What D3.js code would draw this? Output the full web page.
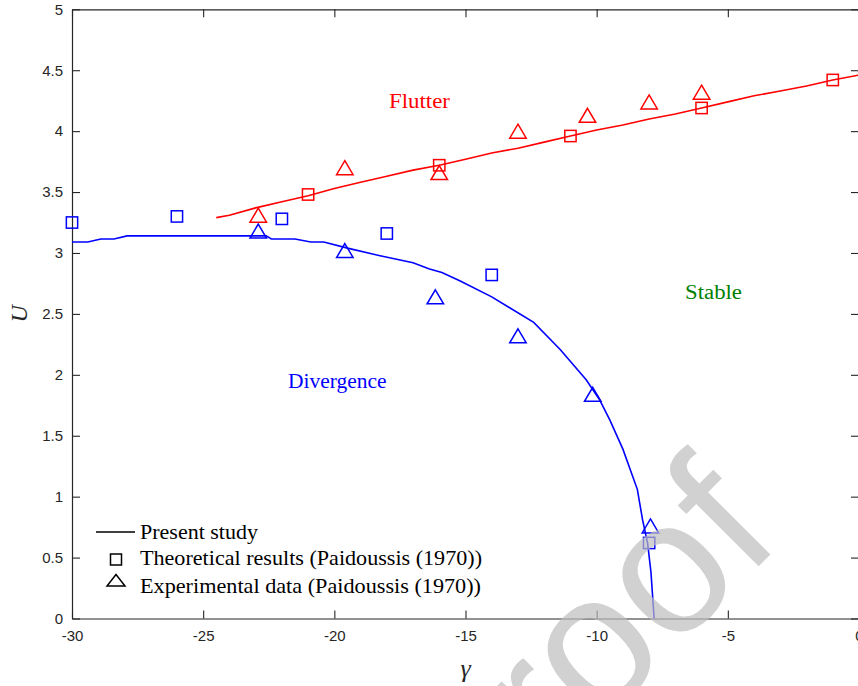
<!DOCTYPE html>
<html>
<head>
<meta charset="utf-8">
<script src="https://cdn.jsdelivr.net/npm/d3@7"></script>
<style>
  html, body { margin: 0; padding: 0; background: #fff; }
  svg { display: block; }
</style>
</head>
<body>
<svg id="chart" width="858" height="686"></svg>
<script>
// Stability boundaries of the cantilevered cylinder, U versus gamma

// Present study: flutter boundary
const flutterGamma = [-24.5, -24, -23, -22, -21, -20, -19, -18, -17, -16, -15, -14, -13, -12, -11, -10, -9, -8, -7, -6, -5, -4, -3, -2, -1, 0];
const flutterU     = [3.29, 3.31, 3.37, 3.42, 3.47, 3.53, 3.58, 3.63, 3.68, 3.72, 3.77, 3.82, 3.86, 3.91, 3.96, 4.01, 4.05, 4.10, 4.14, 4.19, 4.24, 4.29, 4.33, 4.37, 4.42, 4.46];

// Present study: divergence boundary
const divergenceGamma = [-30, -29.4, -28.9, -28.4, -27.9, -22.6, -22.4, -21.5, -20.9, -20.4, -19.5, -18.3, -17, -16.4, -15.9, -15.2, -14, -12.4, -11.4, -10.4, -9.9, -9.5, -9.0, -8.45, -8.25, -8.06, -7.93, -7.81];
const divergenceU     = [3.09, 3.09, 3.115, 3.115, 3.14, 3.14, 3.115, 3.115, 3.09, 3.09, 3.04, 2.98, 2.92, 2.87, 2.84, 2.77, 2.64, 2.43, 2.21, 1.96, 1.80, 1.63, 1.39, 1.06, 0.81, 0.62, 0.38, 0.0];

// Paidoussis (1970): theoretical results
const theoFlutterGamma = [-21, -16, -11, -6, -1];
const theoFlutterU     = [3.48, 3.72, 3.96, 4.19, 4.42];
const theoDivGamma     = [-30, -26, -22, -18, -14, -8];
const theoDivU         = [3.25, 3.30, 3.28, 3.16, 2.82, 0.62];

// Paidoussis (1970): experimental data
const expFlutterGamma = [-22.9, -19.6, -16, -13, -10.35, -8, -6];
const expFlutterU     = [3.31, 3.70, 3.66, 4.00, 4.13, 4.24, 4.32];
const expDivGamma     = [-22.9, -19.6, -16.15, -13, -10.15, -7.95];
const expDivU         = [3.18, 3.02, 2.64, 2.32, 1.84, 0.76];

// Axis ticks
const xTicks = [-30, -25, -20, -15, -10, -5, 0];
const yTicks = [0, 0.5, 1, 1.5, 2, 2.5, 3, 3.5, 4, 4.5, 5];

// Legend entries
const legendLabels = ["Present study", "Theoretical results (Paidoussis (1970))", "Experimental data (Paidoussis (1970))"];
const legendWidths = [118, 342, 341];

const RED = "#ff0000", BLUE = "#0000ff", GREEN = "#008000", AXIS = "#262626";

const svg = d3.select("#chart");
const x = d3.scaleLinear().domain([-30, 0]).range([72, 859]);
const y = d3.scaleLinear().domain([0, 5]).range([618.5, 9.3]);

const zip = (xs, ys) => xs.map((v, i) => [v, ys[i]]);

// Axes with inward ticks (box on)
const tickLen = 8;
const axisFont = "'Liberation Sans', Arial, sans-serif";

const gx = svg.append("g").attr("transform", `translate(0,${y(0)})`)
  .call(d3.axisBottom(x).tickValues(xTicks).tickSizeInner(-tickLen).tickSizeOuter(0).tickPadding(12).tickFormat(d => d3.format("d")(d).replace("−", "-")));
const gy = svg.append("g").attr("transform", `translate(${x(-30)},0)`)
  .call(d3.axisLeft(y).tickValues(yTicks).tickSizeInner(-tickLen).tickSizeOuter(0).tickPadding(9).tickFormat(d => String(d)));
const gt = svg.append("g").attr("transform", `translate(0,${y(5)})`)
  .call(d3.axisTop(x).tickValues(xTicks).tickSizeInner(-tickLen).tickSizeOuter(0).tickFormat(""));
const gr = svg.append("g").attr("transform", `translate(${x(0)},0)`)
  .call(d3.axisRight(y).tickValues(yTicks).tickSizeInner(-tickLen).tickSizeOuter(0).tickFormat(""));

[gx, gy, gt, gr].forEach(g => {
  g.select(".domain").attr("stroke", AXIS).attr("stroke-width", 1.2);
  g.selectAll(".tick line").attr("stroke", AXIS).attr("stroke-width", 1.1);
  g.selectAll(".tick text").attr("fill", AXIS).style("font-family", axisFont).style("font-size", "15px");
});

// Axis titles
const serif = "'Liberation Serif', 'Times New Roman', serif";
svg.append("text")
  .attr("transform", `translate(27,${y(2.5)}) rotate(-90)`)
  .attr("text-anchor", "middle")
  .style("font-family", serif).style("font-style", "italic").style("font-size", "24px")
  .attr("fill", AXIS).text("U");
svg.append("text")
  .attr("x", x(-15)).attr("y", 677)
  .attr("text-anchor", "middle")
  .style("font-family", serif).style("font-style", "italic").style("font-size", "26px")
  .attr("fill", AXIS).text("γ");

// Boundary curves
const line = d3.line().x(d => x(d[0])).y(d => y(d[1]));
svg.append("path").datum(zip(flutterGamma, flutterU))
  .attr("d", line).attr("fill", "none").attr("stroke", RED).attr("stroke-width", 1.6);
svg.append("path").datum(zip(divergenceGamma, divergenceU))
  .attr("d", line).attr("fill", "none").attr("stroke", BLUE).attr("stroke-width", 1.6);

// Markers
const sq = 11.3;
function squares(data, color) {
  svg.append("g").selectAll("rect").data(data).join("rect")
    .attr("x", d => x(d[0]) - sq / 2).attr("y", d => y(d[1]) - sq / 2)
    .attr("width", sq).attr("height", sq)
    .attr("fill", "none").attr("stroke", color).attr("stroke-width", 1.5);
}
const triW = 16.5, triH = 14;
const triPath = (cx, cy) => `M${cx},${cy - triH / 2}L${cx + triW / 2},${cy + triH / 2}L${cx - triW / 2},${cy + triH / 2}Z`;
function triangles(data, color) {
  svg.append("g").selectAll("path").data(data).join("path")
    .attr("d", d => triPath(x(d[0]), y(d[1])))
    .attr("fill", "none").attr("stroke", color).attr("stroke-width", 1.5).attr("stroke-linejoin", "miter");
}
squares(zip(theoFlutterGamma, theoFlutterU), RED);
squares(zip(theoDivGamma, theoDivU), BLUE);
triangles(zip(expFlutterGamma, expFlutterU), RED);
triangles(zip(expDivGamma, expDivU), BLUE);

// Region labels
function regionLabel(txt, px, py, w, color) {
  svg.append("text").attr("x", px).attr("y", py)
    .attr("textLength", w).attr("lengthAdjust", "spacingAndGlyphs")
    .style("font-family", serif).style("font-size", "20px")
    .attr("fill", color).text(txt);
}
regionLabel("Flutter", 389, 107.5, 61, RED);
regionLabel("Stable", 685, 299, 57, GREEN);
regionLabel("Divergence", 288, 387.7, 98.5, BLUE);

// Legend
const legX = 140, legY = [538.5, 565, 592.5];
const leg = svg.append("g");
leg.append("line").attr("x1", 96).attr("x2", 135).attr("y1", legY[0] - 6.5).attr("y2", legY[0] - 6.5)
  .attr("stroke", "#000").attr("stroke-width", 1.6);
leg.append("rect").attr("x", 116 - 5.5).attr("y", legY[1] - 11).attr("width", 11).attr("height", 11)
  .attr("fill", "none").attr("stroke", "#000").attr("stroke-width", 1.5);
leg.append("path").attr("d", `M116,${legY[2] - 18}L125,${legY[2] - 6.5}L107,${legY[2] - 6.5}Z`)
  .attr("fill", "none").attr("stroke", "#000").attr("stroke-width", 1.5);
leg.selectAll("text").data(legendLabels).join("text")
  .attr("x", legX).attr("y", (d, i) => legY[i])
  .attr("textLength", (d, i) => legendWidths[i]).attr("lengthAdjust", "spacingAndGlyphs")
  .style("font-family", serif).style("font-size", "21px")
  .attr("fill", "#000").text(d => d);

// Diagonal "proof" stamp across the lower right
svg.append("text")
  .attr("transform", "translate(784,541) rotate(-45)")
  .attr("text-anchor", "end")
  .style("font-family", axisFont).style("font-size", "190px")
  .attr("fill", "#bdbdbd").attr("fill-opacity", 0.7)
  .text("proof");
</script>
</body>
</html>
